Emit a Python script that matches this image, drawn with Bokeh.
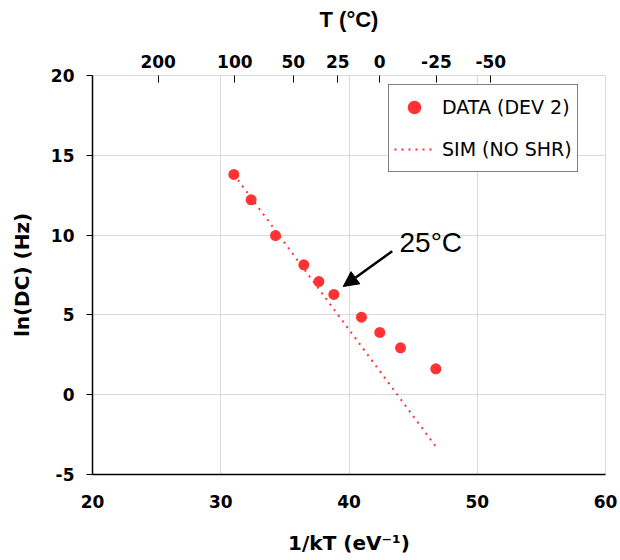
from bokeh.plotting import figure
from bokeh.models import (LinearAxis, FixedTicker, Legend, LegendItem, Label,
                          Arrow, NormalHead)
from bokeh.embed import file_html
from bokeh.resources import INLINE

# ---- data ----
inv_kT = [31.02, 32.37, 34.27, 36.48, 37.65, 38.82, 40.97, 42.40, 44.02, 46.77]
ln_dc = [13.80, 12.21, 9.97, 8.14, 7.09, 6.28, 4.86, 3.90, 2.94, 1.62]
sim_x = [31.02, 46.77]
sim_y = [13.80, -3.25]

x_ticks = [20, 30, 40, 50, 60]
y_ticks = [-5, 0, 5, 10, 15, 20]
y_tick_labels = ["-5", "0", "5", "10", "15", "20"]
t_labels = ["200", "100", "50", "25", "0", "-25", "-50"]
t_pos = [25.12, 31.10, 35.65, 39.13, 42.40, 46.82, 51.06]

# annotation
ann_text = "25°C"
ann_text_xy = (43.94, 9.54)
arrow_start = (43.37, 8.99)
arrow_end = (39.55, 6.78)

RED = "#FF3333"
GRID = "#d9d9d9"
TICK_FONT = "DejaVu Sans"

p = figure(width=620, height=560, x_range=(20, 60), y_range=(-5, 20),
           output_backend="svg", toolbar_location=None,
           min_border_left=92, min_border_right=15,
           min_border_top=75, min_border_bottom=86)

p.outline_line_color = GRID
p.background_fill_color = "white"
p.border_fill_color = "white"

# grids
p.xgrid.ticker = FixedTicker(ticks=x_ticks)
p.ygrid.ticker = FixedTicker(ticks=y_ticks)
p.xgrid.grid_line_color = GRID
p.ygrid.grid_line_color = GRID


def style_labels(ax):
    ax.major_label_text_font = TICK_FONT
    ax.major_label_text_font_style = "bold"
    ax.major_label_text_font_size = "17px"
    ax.major_label_text_color = "black"
    ax.axis_label_text_color = "black"
    ax.axis_label_text_font_style = "bold"
    ax.minor_tick_line_color = None


# bottom axis
xa = p.xaxis[0]
xa.ticker = FixedTicker(ticks=x_ticks)
xa.major_tick_in = 0
xa.major_tick_out = 0
xa.axis_line_color = "black"
xa.axis_line_width = 1.5
style_labels(xa)
xa.major_label_standoff = 20
xa.axis_label = "1/kT (eV⁻¹)"
xa.axis_label_text_font = "DejaVu Sans"
xa.axis_label_text_font_size = "20px"
xa.axis_label_standoff = 20

# left axis
ya = p.yaxis[0]
ya.ticker = FixedTicker(ticks=y_ticks)
ya.major_label_overrides = {t: lab for t, lab in zip(y_ticks, y_tick_labels)}
ya.major_tick_in = 0
ya.major_tick_out = 6
ya.axis_line_color = "black"
ya.axis_line_width = 1.5
style_labels(ya)
ya.major_label_standoff = 12
ya.axis_label = "ln(DC) (Hz)"
ya.axis_label_text_font = "DejaVu Sans"
ya.axis_label_text_font_size = "20px"
ya.axis_label_standoff = 14

# top axis (temperature)
top = LinearAxis(ticker=FixedTicker(ticks=t_pos),
                 major_label_overrides={pos: lab for pos, lab in zip(t_pos, t_labels)})
top.major_tick_in = 7
top.major_tick_out = 0
top.axis_line_color = GRID
top.major_tick_line_color = "black"
style_labels(top)
top.major_label_standoff = 8
top.axis_label = "T (°C)"
top.axis_label_text_font = "Liberation Sans"
top.axis_label_text_font_size = "22px"
top.axis_label_standoff = 20
p.add_layout(top, "above")

# glyphs
sim = p.line(sim_x, sim_y, line_color=RED, line_width=2, line_dash="2 5")
pts = p.scatter(inv_kT, ln_dc, size=11, fill_color=RED, line_color=None)

legend = Legend(items=[LegendItem(label="DATA (DEV 2)", renderers=[pts]),
                       LegendItem(label="SIM (NO SHR)", renderers=[sim])],
                location=(296, 302))
legend.padding = 5
legend.margin = 0
legend.glyph_width = 40
legend.glyph_height = 34
legend.label_height = 34
legend.spacing = 8
legend.label_standoff = 8
legend.label_text_font = "DejaVu Sans"
legend.label_text_font_size = "19px"
legend.label_text_color = "black"
legend.border_line_color = "black"
legend.border_line_width = 1.5
legend.background_fill_color = "white"
legend.background_fill_alpha = 1
p.add_layout(legend)

# annotation
p.add_layout(Arrow(x_start=arrow_start[0], y_start=arrow_start[1],
                   x_end=arrow_end[0], y_end=arrow_end[1],
                   line_color="black", line_width=2.5,
                   end=NormalHead(size=15, fill_color="black", line_color="black")))
p.add_layout(Label(x=ann_text_xy[0], y=ann_text_xy[1], text=ann_text,
                   text_font="Liberation Sans", text_font_size="28px",
                   text_baseline="alphabetic", text_color="black"))

open("out.html", "w").write(file_html(p, INLINE))
